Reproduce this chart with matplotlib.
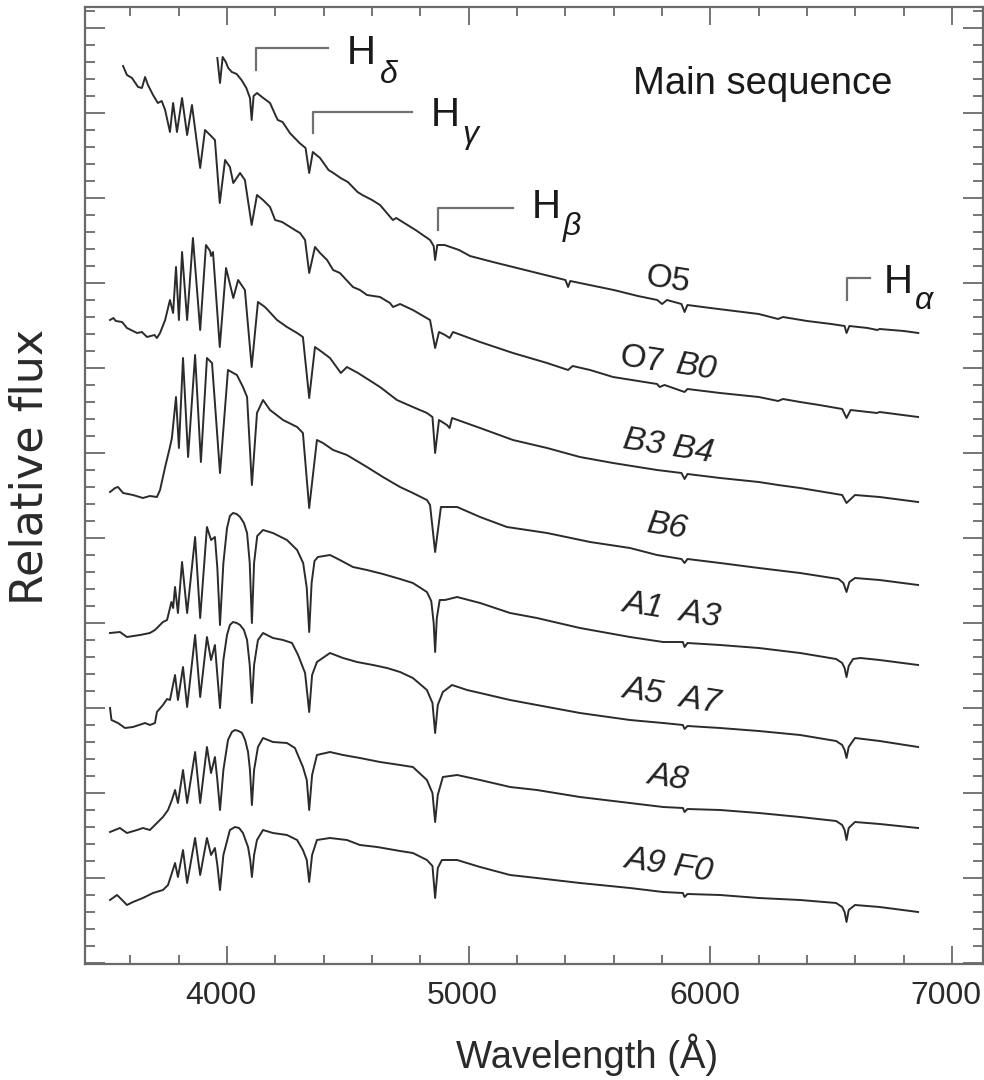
import matplotlib
matplotlib.use("Agg")
import matplotlib.pyplot as plt
from matplotlib.ticker import MultipleLocator, FixedLocator, NullFormatter
from matplotlib.transforms import ScaledTranslation

plt.rcParams['font.family'] = ['Liberation Sans', 'DejaVu Sans']

# ---- spectra: (wavelength in Angstrom, relative flux incl. vertical offset, arbitrary units) ----
o5 = [(3960,905),(3971,880),(3982,906),(3995,901),(4005,895),(4020,891),(4040,889),(4060,883),(4080,875),
      (4095,865),(4102,843),(4110,867),(4124,870),(4150,865),(4178,860),(4200,848),(4210,843),(4230,841),
      (4260,830),(4300,820),(4325,815),(4340,790),(4355,811),(4385,805),(4420,793),(4440,790),(4470,785),
      (4500,781),(4540,771),(4560,768),(4600,763),(4633,758),(4686,743),(4700,745),(4780,733),(4840,723),
      (4855,717),(4861,703),(4870,718),(4900,718),(4960,713),(5005,707),(5100,701),(5200,695),(5300,689),
      (5400,683),(5411,676),(5420,682),(5500,678),(5600,673),(5700,667),(5780,663),(5800,659),(5820,663),
      (5880,659),(5893,651),(5905,658),(6000,655),(6100,652),(6200,649),(6280,644),(6300,646),(6400,642),
      (6500,639),(6555,637),(6563,630),(6575,637),(6650,635),(6690,633),(6700,634),(6800,632),(6860,630)]

o7b0 = [(3570,897),(3586,888),(3607,885),(3632,876),(3648,875),(3661,886),(3673,878),(3694,868),(3714,860),
        (3730,862),(3744,853),(3764,831),(3777,860),(3793,831),(3814,865),(3835,828),(3855,858),(3889,795),
        (3909,833),(3930,828),(3950,823),(3970,760),(3992,803),(4012,796),(4026,780),(4054,790),(4074,783),
        (4102,738),(4124,768),(4149,763),(4178,756),(4199,743),(4228,741),(4248,738),(4281,733),(4302,730),
        (4323,723),(4340,690),(4364,716),(4385,710),(4414,703),(4439,693),(4467,690),(4521,676),(4550,673),
        (4579,668),(4633,666),(4674,660),(4687,656),(4716,659),(4769,653),(4840,643),(4861,615),(4877,631),
        (4902,628),(4921,625),(4935,631),(5047,621),(5183,610),(5324,600),(5411,593),(5430,597),(5502,593),
        (5597,586),(5779,579),(5790,576),(5810,578),(5893,571),(5905,574),(6040,570),(6200,566),(6280,562),
        (6300,564),(6371,561),(6450,558),(6545,554),(6563,545),(6580,553),(6689,550),(6700,551),(6859,546)]

b3b4 = [(3516,643),(3530,645),(3540,642),(3566,641),(3586,635),(3628,630),(3648,631),(3669,626),(3700,628),
        (3710,625),(3723,630),(3744,643),(3764,663),(3777,650),(3789,696),(3801,643),(3814,711),(3835,643),
        (3859,725),(3889,633),(3913,718),(3930,712),(3934,707),(3942,711),(3970,616),(3996,695),(4026,665),
        (4046,683),(4074,673),(4102,596),(4128,661),(4157,656),(4207,643),(4248,636),(4290,630),(4314,626),
        (4340,565),(4364,616),(4393,611),(4426,605),(4471,590),(4496,596),(4542,590),(4633,576),(4703,563),
        (4769,556),(4827,550),(4850,546),(4861,510),(4877,543),(4910,538),(4921,535),(4931,545),(5047,535),
        (5183,523),(5324,515),(5460,506),(5597,500),(5779,493),(5880,490),(5893,484),(5905,489),(6040,485),
        (6200,481),(6280,478),(6371,475),(6545,468),(6563,460),(6598,468),(6700,466),(6859,461)]

b6 = [(3516,471),(3537,475),(3549,476),(3570,470),(3611,468),(3652,465),(3681,467),(3710,466),(3723,473),
      (3744,496),(3764,516),(3772,525),(3789,566),(3801,515),(3818,605),(3839,506),(3868,608),(3892,501),
      (3917,605),(3938,600),(3971,490),(4004,593),(4041,588),(4066,576),(4083,566),(4103,478),(4124,550),
      (4149,563),(4178,553),(4232,543),(4290,536),(4314,530),(4340,455),(4372,523),(4397,520),(4439,513),
      (4496,508),(4579,496),(4645,486),(4716,476),(4769,470),(4827,463),(4840,458),(4861,411),(4885,456),
      (4952,456),(5047,446),(5158,436),(5324,430),(5502,421),(5667,415),(5779,408),(5880,404),(5893,400),
      (5905,404),(6040,400),(6200,395),(6371,390),(6530,384),(6550,380),(6563,371),(6575,381),(6598,385),
      (6700,383),(6859,378)]

a1a3 = [(3516,330),(3557,331),(3586,326),(3640,328),(3681,330),(3702,333),(3735,341),(3752,343),(3760,351),
        (3770,361),(3777,355),(3785,376),(3797,350),(3814,401),(3835,350),(3868,426),(3889,345),(3917,436),
        (3934,423),(3950,426),(3960,395),(3971,338),(3985,400),(4000,435),(4012,447),(4025,450),(4040,449),
        (4054,446),(4070,440),(4083,430),(4094,400),(4103,340),(4112,400),(4125,427),(4149,433),(4190,430),
        (4248,423),(4290,413),(4315,400),(4330,375),(4340,331),(4350,380),(4362,402),(4376,406),(4426,408),
        (4467,403),(4521,396),(4579,393),(4645,389),(4716,384),(4769,380),(4827,371),(4845,362),(4855,340),
        (4861,311),(4868,345),(4880,363),(4902,363),(4952,366),(5047,360),(5171,350),(5282,345),(5460,335),
        (5667,326),(5804,321),(5886,321),(5893,316),(5905,320),(6040,318),(6200,315),(6371,310),(6520,304),
        (6545,300),(6555,295),(6563,286),(6572,297),(6590,304),(6620,305),(6700,303),(6859,298)]

a5a7 = [(3516,255),(3522,243),(3549,240),(3578,235),(3611,236),(3661,240),(3681,238),(3702,240),(3710,251),
        (3735,258),(3752,264),(3764,263),(3785,288),(3797,263),(3818,296),(3835,256),(3868,328),(3889,266),
        (3917,326),(3934,303),(3950,318),(3960,288),(3971,255),(3985,303),(4000,328),(4012,338),(4025,341),
        (4040,340),(4054,338),(4070,333),(4083,323),(4094,298),(4103,260),(4112,298),(4128,323),(4149,330),
        (4190,325),(4232,323),(4269,320),(4294,308),(4323,290),(4340,251),(4352,288),(4372,301),(4426,310),
        (4480,305),(4538,301),(4604,298),(4662,295),(4716,291),(4769,285),(4827,273),(4850,260),(4861,230),
        (4872,258),(4893,271),(4931,278),(4993,273),(5047,270),(5171,263),(5282,258),(5460,250),(5667,243),
        (5804,240),(5886,238),(5893,234),(5905,237),(6040,235),(6200,232),(6371,228),(6520,222),(6545,218),
        (6555,213),(6563,205),(6572,216),(6598,225),(6700,222),(6859,216)]

a8 = [(3516,131),(3557,135),(3586,130),(3628,133),(3652,135),(3681,133),(3710,140),(3735,146),(3756,153),
      (3772,163),(3785,173),(3797,160),(3818,193),(3835,160),(3868,211),(3889,160),(3917,216),(3934,190),
      (3950,206),(3960,183),(3971,153),(3985,193),(4004,223),(4020,231),(4033,233),(4048,232),(4062,230),
      (4075,223),(4087,211),(4095,193),(4103,158),(4112,193),(4128,216),(4149,225),(4190,221),(4248,220),
      (4281,215),(4314,196),(4330,183),(4340,153),(4352,188),(4372,208),(4426,211),(4480,208),(4550,205),
      (4633,201),(4716,198),(4769,196),(4827,183),(4850,170),(4861,141),(4872,168),(4893,186),(4952,188),
      (5047,183),(5171,176),(5282,173),(5460,166),(5667,160),(5804,156),(5886,155),(5893,151),(5905,154),
      (6040,153),(6200,150),(6371,146),(6520,142),(6545,138),(6555,133),(6563,123),(6572,135),(6598,141),
      (6700,139),(6859,135)]

a9f0 = [(3516,63),(3545,68),(3566,63),(3586,58),(3611,61),(3652,65),(3694,70),(3735,73),(3756,78),(3772,90),
        (3785,100),(3797,86),(3818,113),(3835,80),(3868,125),(3889,88),(3917,125),(3934,108),(3950,115),
        (3960,98),(3971,73),(3985,108),(4012,133),(4033,136),(4050,135),(4066,130),(4087,116),(4096,103),
        (4103,86),(4112,108),(4124,123),(4149,133),(4190,130),(4248,128),(4290,123),(4314,113),(4330,103),
        (4340,81),(4352,108),(4372,123),(4426,125),(4496,123),(4550,118),(4621,116),(4716,112),(4769,110),
        (4827,103),(4850,97),(4861,65),(4872,95),(4889,103),(4952,103),(5047,96),(5171,88),(5282,85),
        (5460,80),(5667,75),(5804,71),(5886,70),(5893,66),(5905,69),(6040,68),(6200,65),(6371,63),(6520,60),
        (6545,56),(6555,51),(6563,41),(6572,53),(6598,58),(6700,56),(6859,51)]

spectra = [o5, o7b0, b3b4, b6, a1a3, a5a7, a8, a9f0]

# spectral-type label pieces: text, wavelength, flux, italic?
type_labels = ["O5", "O7", "B0", "B3 B4", "B6", "A1  A3", "A5  A7", "A8", "A9 F0"]
type_label_wl = [5824, 5717, 5944, 5824, 5824, 5841, 5841, 5824, 5829]
type_label_fx = [683, 603, 595, 516, 436, 353, 267, 185, 97]
type_label_italic = [False, False, True, True, True, True, True, True, True]

# Balmer line markers
balmer_greek = ["\u03b4", "\u03b3", "\u03b2", "\u03b1"]
marker_wl = [4120, 4357, 4872, 6565]
marker_bottom = [893, 830, 733, 663]
marker_top = [915, 851, 755, 685]
marker_end_wl = [4418, 4765, 5183, 6660]
h_text_wl = [4495, 4843, 5261, 6717]
h_text_fx = [910, 848, 756, 681]
greek_wl = [4633, 4972, 5390, 6846]
greek_fx = [888, 828, 736, 662]

xticks_major = [4000, 5000, 6000, 7000]

W, H = 984, 1080
fig = plt.figure(figsize=(W / 100, H / 100), dpi=100)
ax = fig.add_axes([85 / W, (H - 964) / H, (983 - 85) / W, (964 - 7) / H])

line_col = "#2b2b2b"
for spec in spectra:
    wl = [p[0] for p in spec]
    fx = [p[1] for p in spec]
    ax.plot(wl, fx, color=line_col, lw=1.4, solid_joinstyle="round")

for txt, x, y, it in zip(type_labels, type_label_wl, type_label_fx, type_label_italic):
    ax.text(x, y, txt, ha="center", va="center", rotation=-9, fontsize=24,
            style="italic" if it else "normal", color="#222222")

mk_col = "#707070"
for g, xw, yb, yt, xe, hx, hy, gx, gy in zip(balmer_greek, marker_wl, marker_bottom, marker_top,
                                             marker_end_wl, h_text_wl, h_text_fx, greek_wl, greek_fx):
    ax.plot([xw, xw, xe], [yb, yt, yt], color=mk_col, lw=1.6)
    ax.text(hx, hy, "H", ha="left", va="center", fontsize=29, color="#1a1a1a")
    ax.text(gx, gy, g, ha="left", va="center", fontsize=23, style="italic", color="#1a1a1a")

ax.text(6217, 879, "Main sequence", ha="center", va="center", fontsize=27.5, color="#1a1a1a")

ax.set_xlim(3412.5, 7127.6)
ax.set_ylim(-1, 956)

ax.xaxis.set_major_locator(FixedLocator(xticks_major))
ax.xaxis.set_minor_locator(MultipleLocator(200))
ax.yaxis.set_major_locator(MultipleLocator(85))
ax.yaxis.set_minor_locator(MultipleLocator(17))
ax.yaxis.set_major_formatter(NullFormatter())

spine_col = "#6a6a6a"
for s in ax.spines.values():
    s.set_color(spine_col)
    s.set_linewidth(1.6)

ax.tick_params(axis="both", which="both", direction="in", top=True, right=True, color=spine_col, width=1.3)
ax.tick_params(axis="x", which="major", length=13, labelsize=23, pad=12, labelcolor="#2a2a2a")
ax.tick_params(axis="x", which="minor", length=6.5)
ax.tick_params(axis="y", which="major", length=14.5)
ax.tick_params(axis="y", which="minor", length=7.5)

shift = ScaledTranslation(-6 / 100, 0, fig.dpi_scale_trans)
for lab in ax.get_xticklabels():
    lab.set_transform(lab.get_transform() + shift)

ax.set_xlabel("Wavelength (\u00c5)", fontsize=27.5, color="#2a2a2a")
ax.xaxis.set_label_coords((587 - 85) / (983 - 85), (964 - 1055) / 957)
ax.xaxis.label.set_va("center")
ax.set_ylabel("Relative flux", fontsize=32, color="#2a2a2a", family=["DejaVu Sans"])
ax.yaxis.set_label_coords((30 - 85) / (983 - 85), (964 - 467) / 957)
ax.yaxis.label.set_va("center")

fig.savefig("out.png", dpi=100)
